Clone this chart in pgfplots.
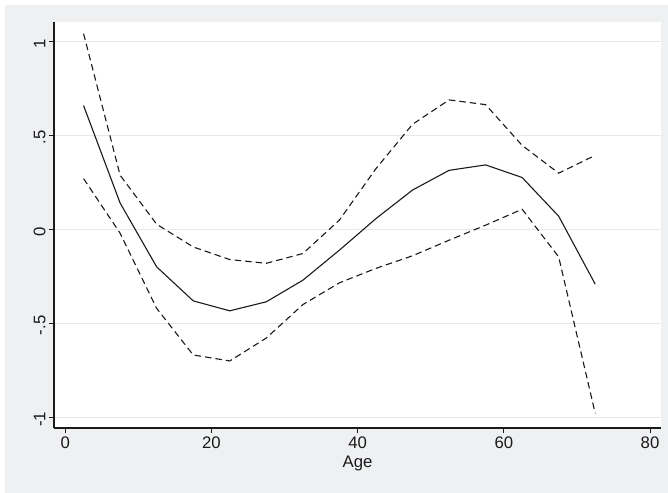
\documentclass[border=0pt]{standalone}
\usepackage{pgfplots}
\pgfplotsset{compat=1.18}
\usepackage{fontspec}
\setmainfont{Liberation Sans}
\usetikzlibrary{backgrounds}
\definecolor{bggray}{RGB}{239,240,242}
\definecolor{gridgray}{RGB}{232,232,232}
\definecolor{ink}{RGB}{26,26,26}
\begin{document}
\begin{tikzpicture}
\begin{axis}[
  name=ax,
  scale only axis,
  width=607bp, height=406bp,
  xmin=-1.546, xmax=81.5,
  ymin=-1.057, ymax=1.105,
  axis x line*=bottom, axis y line*=left,
  axis line style={ink, line width=1.1bp},
  axis background/.style={fill=white},
  xtick={0,20,40,60,80},
  ytick={-1,-0.5,0,0.5,1},
  yticklabels={-1,-.5,0,.5,1},
  tick align=outside,
  major tick length=5bp,
  tick style={ink, line width=0.9bp},
  ymajorgrids,
  major grid style={gridgray, line width=1.4bp},
  /pgf/number format/assume math mode=true,
  ticklabel style={font=\fontsize{16.8}{18}\selectfont, text=ink},
  yticklabel style={rotate=90, anchor=south, xshift=-2bp},
  xlabel={Age},
  xlabel style={font=\fontsize{16.8}{18}\selectfont, text=ink, yshift=-1bp},
  clip=false,
]
\addplot[ink, line width=1.1bp] coordinates {
(2.5,0.66) (7.5,0.141) (12.5,-0.199) (17.5,-0.38) (22.5,-0.433) (27.5,-0.385)
(32.5,-0.27) (37.5,-0.11) (42.5,0.058) (47.5,0.21) (52.5,0.315) (57.5,0.344)
(62.5,0.277) (67.5,0.071) (72.5,-0.291)};
\addplot[ink, line width=1.1bp, dash pattern=on 6.5bp off 4bp] coordinates {
(2.5,1.043) (7.5,0.289) (12.5,0.028) (17.5,-0.093) (22.5,-0.16) (27.5,-0.18)
(32.5,-0.128) (37.5,0.05) (42.5,0.324) (47.5,0.56) (52.5,0.69) (57.5,0.665)
(62.5,0.448) (67.5,0.30) (72.5,0.395)};
\addplot[ink, line width=1.1bp, dash pattern=on 6.5bp off 4bp] coordinates {
(2.5,0.271) (7.5,-0.02) (12.5,-0.42) (17.5,-0.668) (22.5,-0.70) (27.5,-0.578)
(32.5,-0.40) (37.5,-0.284) (42.5,-0.207) (47.5,-0.14) (52.5,-0.057) (57.5,0.023)
(62.5,0.108) (67.5,-0.146) (72.5,-0.979)};
\end{axis}
\begin{scope}[on background layer]
\fill[white] ([shift={(-54bp,-65bp)}]ax.south west) rectangle ([shift={(614bp,428bp)}]ax.south west);
\fill[bggray] ([shift={(-49bp,-65bp)}]ax.south west) rectangle ([shift={(614bp,423bp)}]ax.south west);
\end{scope}
\end{tikzpicture}
\end{document}
